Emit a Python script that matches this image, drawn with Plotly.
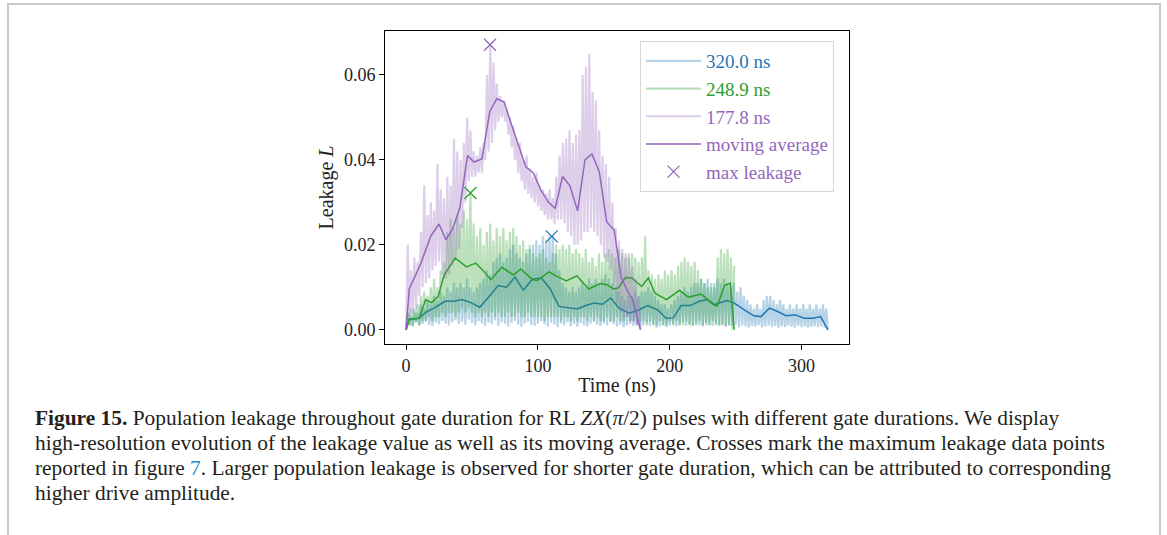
import numpy as np
import plotly.graph_objects as go

# Leakage values below are in units of 1e-3

# 320.0 ns pulse: raw trace troughs / peaks (alternating), 1.25 ns apart
blue_lo = [0, 1.2, 0.8, 1.6, 1.0, 1.4, 2.0, 1.1, 0.9, 1.7,
           1.3, 2.1, 1.5, 1.0, 1.8, 2.2, 1.4, 1.9, 1.2, 2.4,
           1.6, 1.1, 2.0, 1.5, 0.9, 1.7, 1.3, 2.2, 1.0, 1.8,
           1.4, 0.8, 1.6, 2.1, 1.2, 0.7, 1.5, 1.9, 1.1, 0.9,
           1.4, 2.0, 1.3, 0.8, 1.7, 1.2, 0.6, 1.5, 1.0, 1.8,
           0.9, 1.3, 0.7, 1.6, 1.1, 0.8, 1.4, 1.9, 1.2, 0.9,
           1.5, 1.0, 1.7, 1.3, 0.8, 1.2, 0.6, 1.0, 1.4, 0.9,
           1.3, 0.7, 1.1, 1.6, 0.9, 1.2, 0.5, 0.8, 1.1, 0.7,
           1.0, 1.4, 0.8, 1.2, 1.7, 1.0, 1.3, 0.9, 1.5, 1.1,
           0.8, 1.6, 1.2, 0.9, 1.4, 1.0, 1.3, 0.7, 1.1, 0.9,
           1.2, 0.6, 1.0, 0.8, 0.5, 0.9, 0.7, 1.1, 0.6, 0.8,
           1.0, 0.7, 0.9, 0.5, 0.8, 0.6, 1.0, 0.7, 0.5, 0.9,
           0.6, 0.8, 0.5, 0.7, 0.9, 0.6, 0.8, 0.5, 0]
blue_hi = [4, 3, 5, 4, 6, 5, 7, 6, 8, 7, 9, 8, 10, 9, 11, 10,
           11, 10, 12, 10, 9, 10, 11, 12, 14, 13, 16, 17, 18, 16, 17, 19,
           20, 18, 17, 16, 18, 19, 20, 21, 20, 22, 21, 22, 22, 18, 14, 11,
           10, 9, 10, 9, 10, 11, 10, 12, 11, 12, 11, 12, 13, 12, 11, 10,
           9, 8, 7, 8, 8, 9, 8, 9, 9, 10, 9, 8, 7, 6, 6, 5,
           6, 7, 8, 9, 10, 9, 10, 11, 11, 12, 11, 12, 10, 11, 12, 11,
           12, 11, 10, 11, 9, 10, 8, 7, 6, 5, 6, 5, 7, 8, 8, 7,
           6, 7, 6, 5, 6, 5, 6, 5, 6, 5, 6, 5, 6, 5, 6, 5]

# 248.9 ns pulse
green_lo = [0, 1, 1, 2, 1, 2, 2, 3, 2, 3, 3, 4, 3, 4, 4, 3, 4, 5, 4, 5,
            4, 3, 4, 3, 4, 3, 4, 3, 4, 3, 3, 4, 3, 3, 4, 3, 3, 4, 3, 3,
            3, 3, 2, 3, 3, 3, 3, 2, 3, 3, 2, 3, 2, 3, 3, 2, 3, 2, 3, 2,
            2, 3, 2, 2, 3, 2, 2, 3, 2, 2, 1, 2, 2, 1, 2, 1, 1, 2, 1, 1,
            2, 1, 2, 1, 1, 2, 1, 1, 1, 2, 1, 1, 1, 2, 1, 1, 1, 1, 1, 0]
green_hi = [4, 5, 4, 6, 8, 9, 8, 10, 12, 10, 14, 16, 23, 26, 24, 27,
            25, 28, 26, 32, 25, 22, 24, 20, 23, 25, 21, 24, 22, 24, 21, 23,
            24, 22, 20, 21, 19, 20, 18, 17, 18, 19, 17, 16, 18, 20, 19, 20,
            19, 20, 18, 19, 18, 17, 19, 16, 17, 15, 18, 16, 18, 19, 18, 17,
            19, 18, 17, 18, 18, 17, 16, 17, 22, 14, 13, 12, 13, 12, 14, 13,
            14, 13, 15, 16, 17, 16, 15, 16, 14, 12, 11, 10, 11, 10, 17, 19,
            18, 19, 17, 15]

# 177.8 ns pulse
purple_lo = [0, 3, 4, 5, 8, 10, 11, 12, 14, 15, 16, 13, 12, 13, 15, 17, 19, 24, 30, 35,
             36, 36, 37, 37, 40, 42, 44, 47, 49, 50, 49, 46, 43, 40, 37, 35, 33, 32, 31, 30,
             29, 28, 27, 26, 26, 25, 26, 26, 25, 23, 22, 20, 20, 21, 23, 23, 24, 23, 22, 20,
             17, 16, 14, 10, 6, 4, 3, 3, 2, 2, 1, 0]
purple_hi = [20, 14, 17, 16, 23, 34, 27, 30, 28, 39, 33, 31, 36, 34, 45, 42, 40, 44, 50, 47,
             42, 41, 43, 44, 60, 67, 63, 58, 55, 54, 52, 50, 48, 45, 44, 40, 41, 38, 36, 37,
             34, 33, 32, 33, 31, 36, 41, 44, 45, 47, 44, 46, 47, 60, 62, 65, 56, 54, 47, 41,
             39, 36, 30, 24, 21, 19, 18, 17, 15, 12, 8]

# moving averages
blue_ma_t = [0, 2.3, 9.9, 14.9, 21.2, 29.6, 36.4, 42.2, 49.1, 55.9, 62.9, 69.8, 76.1, 82.7, 89,
             95.8, 102.6, 109, 116, 122.8, 129.9, 136.3, 142.6, 149, 155.3, 161.5, 169.3, 176,
             183.2, 190.8, 197.2, 202.7, 208.6, 215.4, 222.5, 228.8, 233.9, 243.2, 248.5, 256.6,
             263.7, 269.3, 275.6, 281.9, 288.3, 295.3, 302.1, 308.6, 314.5, 320]
blue_ma = [0, 2.5, 2.7, 4.1, 5.1, 6.7, 6.7, 7.1, 6.4, 5.3, 7.8, 10.4, 10.0, 12.4, 9.3,
           11.9, 12.2, 9.8, 5.5, 5.2, 4.9, 5.7, 6.3, 6.0, 7.5, 5.1, 3.9, 4.6,
           5.7, 4.7, 2.7, 2.8, 5.7, 5.7, 6.7, 7.1, 5.9, 6.9, 6.4, 4.7,
           3.3, 3.1, 5.1, 4.3, 3.3, 3.5, 2.7, 2.7, 3.1, 0]
green_ma_t = [0, 2.3, 9.9, 14.9, 19.2, 24.3, 28.8, 37.2, 45.8, 52.9, 58, 64.2, 72.6, 81.4, 87,
              95.8, 99.6, 108.4, 114.8, 121.5, 129.6, 138.5, 147.3, 152.4, 157.4, 161.2, 166.3,
              171.3, 178.7, 183.8, 188.8, 197.5, 207.5, 214, 224, 233.3, 236, 241.6, 245.9, 248.9]
green_ma = [0, 2.4, 2.7, 7.1, 6.4, 7.8, 12.9, 16.9, 14.8, 15.7, 14.1, 11.8, 14.7, 12.9, 14.3,
            11.8, 11.6, 13.6, 12.5, 11.5, 12.7, 9.6, 10.9, 10.6, 9.6, 9.9, 12.3,
            12.2, 10.2, 12.2, 8.6, 7.1, 9.3, 7.7, 8.4, 5.9, 5.6, 10.4, 11.0, 0]
purple_ma_t = [0, 2.4, 11, 18.8, 25, 30.2, 35.5, 40.8, 46.6, 51.5, 57.5, 63.5, 68.8, 74.4, 80,
               85.8, 90.9, 96.4, 102.3, 108, 113.1, 118.7, 124.3, 130.1, 135.7, 141, 146.5,
               152.2, 157.9, 163, 168.8, 171.8, 177.8]
purple_ma = [0, 9.6, 15.5, 22.1, 24.9, 21.2, 23.9, 28.8, 41.0, 39.5, 40.2, 51.4, 54.4, 53.6, 48.2,
             43.1, 38.3, 37.0, 32.9, 30.0, 28.6, 36.1, 33.9, 28.0, 40.0, 41.4, 37.3,
             25.4, 23.5, 12.5, 8.6, 7.2, 0]

# max leakage points (blue, green, purple)
max_t = [110.5, 48.8, 63.7]
max_L = [22.0, 32.2, 67.1]

durations = [320.0, 248.9, 177.8]
labels = ['320.0 ns', '248.9 ns', '177.8 ns']
colors = ['#1f77b4', '#2ca02c', '#9467bd']
faded = ['rgba(31,119,180,0.32)', 'rgba(44,160,44,0.32)', 'rgba(148,103,189,0.32)']


def interleave(lo, hi):
    out = []
    for i in range(len(lo)):
        out.append(lo[i])
        if i < len(hi):
            out.append(hi[i])
    return np.array(out) / 1000


raw = [interleave(blue_lo, blue_hi), interleave(green_lo, green_hi), interleave(purple_lo, purple_hi)]
ma_t = [blue_ma_t, green_ma_t, purple_ma_t]
ma = [blue_ma, green_ma, purple_ma]

fig = go.Figure()

for i in range(3):
    y = raw[i]
    t = np.linspace(0, durations[i], len(y))
    fig.add_trace(go.Scatter(x=t, y=y, mode='lines', line=dict(color=faded[i], width=2.2),
                             name="<span style='color:%s'>%s</span>" % (colors[i], labels[i]),
                             legendrank=i + 1, hoverinfo='skip'))
    fig.add_trace(go.Scatter(x=ma_t[i], y=np.array(ma[i]) / 1000, mode='lines',
                             line=dict(color=colors[i], width=1.5),
                             name="<span style='color:#9467bd'>moving average</span>",
                             showlegend=(i == 2), legendrank=4))

for i in range(3):
    fig.add_trace(go.Scatter(x=[max_t[i]], y=[max_L[i] / 1000], mode='markers',
                             marker=dict(symbol='x-thin', size=12, line=dict(color=colors[i], width=1.3)),
                             name="<span style='color:#9467bd'>max leakage</span>",
                             showlegend=(i == 2), legendrank=5))

W, H = 1167, 535
font = 'Liberation Serif'

fig.update_layout(
    width=W, height=H, margin=dict(l=0, r=0, t=0, b=0),
    paper_bgcolor='white', plot_bgcolor='white',
    font=dict(family=font, size=18, color='#222'),
    xaxis=dict(domain=[385 / W, 849 / W], range=[-16, 336], tickvals=[0, 100, 200, 300],
               showline=True, mirror=True, linecolor='black', linewidth=1, ticks='outside',
               ticklen=5, tickcolor='black', showgrid=False, zeroline=False,
               tickfont=dict(size=18),
               title=dict(text='Time (ns)', standoff=3, font=dict(size=20))),
    yaxis=dict(domain=[1 - 344 / H, 1 - 31 / H], range=[-0.00335, 0.07035],
               tickvals=[0, 0.02, 0.04, 0.06], tickformat='.2f',
               showline=True, mirror=True, linecolor='black', linewidth=1, ticks='outside',
               ticklen=5, tickcolor='black', showgrid=False, zeroline=False,
               tickfont=dict(size=18),
               title=dict(text='Leakage <i>L</i>', standoff=4, font=dict(size=20))),
    legend=dict(x=640 / W, y=1 - 41 / H, xanchor='left', yanchor='top',
                bgcolor='rgba(255,255,255,0.85)', bordercolor='#d6d6d6', borderwidth=1,
                font=dict(family=font, size=19), itemwidth=55),
    showlegend=True,
)

# page frame
fig.add_shape(type='path', xref='paper', yref='paper',
              path='M %f 0 L %f %f L %f %f L %f 0' % (8 / W, 8 / W, 1 - 4 / H, 1160 / W, 1 - 4 / H, 1160 / W),
              line=dict(color='#c8c8c8', width=2))

# caption
caption = [
    "<b>Figure 15.</b> Population leakage throughout gate duration for RL <i>ZX</i>(<i>π</i>/2) pulses with different gate durations. We display",
    "high-resolution evolution of the leakage value as well as its moving average. Crosses mark the maximum leakage data points",
    "reported in figure <span style='color:#2e83c3'>7</span>. Larger population leakage is observed for shorter gate duration, which can be attributed to corresponding",
    "higher drive amplitude.",
]
caption_y = [418, 443, 468, 493]
for line, yy in zip(caption, caption_y):
    fig.add_annotation(text=line, xref='paper', yref='paper', x=33 / W, y=1 - yy / H,
                       xanchor='left', yanchor='middle', showarrow=False,
                       font=dict(family=font, size=21.4, color='#231f20'))

# drop the default page margin so the figure sits at the window corner
fig.write_html("out.html", config={'displayModeBar': False},
               post_script="document.body.style.margin='0';")
